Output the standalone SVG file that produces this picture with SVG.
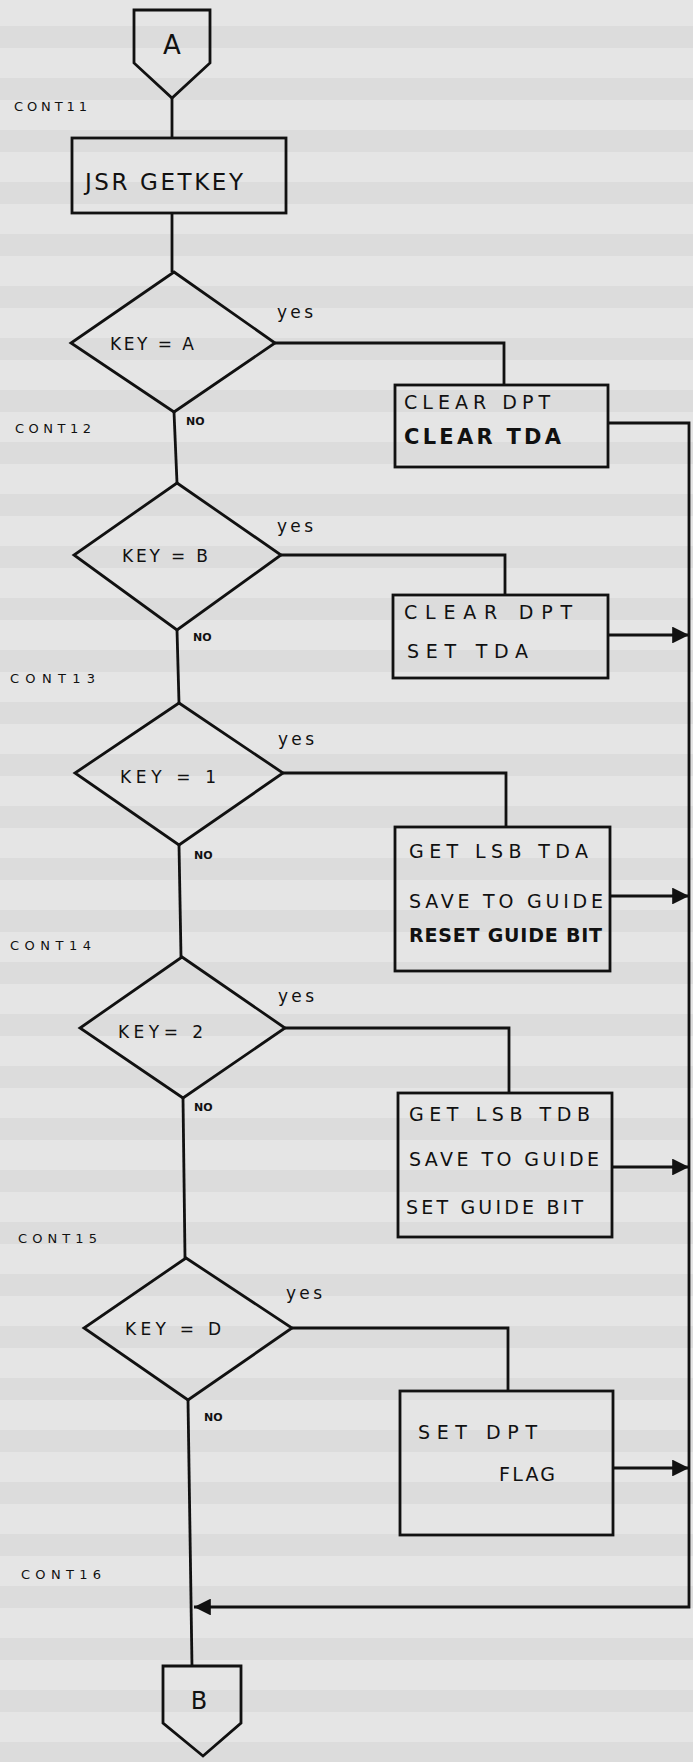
<svg xmlns="http://www.w3.org/2000/svg" width="693" height="1762" viewBox="0 0 693 1762">
<defs>
<pattern id="stripes" x="0" y="0" width="693" height="52" patternUnits="userSpaceOnUse">
<rect x="0" y="0" width="693" height="52" fill="#e5e5e5"/>
<rect x="0" y="26" width="693" height="22" fill="#dcdcdc"/>
</pattern>
<marker id="arr" viewBox="0 0 10 10" refX="10" refY="5" markerWidth="7" markerHeight="6" markerUnits="strokeWidth" orient="auto">
<path d="M0,0 L10,5 L0,10 Z" fill="#111"/>
</marker>
</defs>
<style>
.s{fill:none;stroke:#111;stroke-width:2.8;stroke-linejoin:miter}
.t{font-family:"DejaVu Sans","Liberation Sans",sans-serif;fill:#111}
.box{font-size:19px}
.bold{font-size:21px;font-weight:bold}
.lab{font-size:13px}
.yes{font-size:17px}
.no{font-size:11px;font-weight:bold}
.key{font-size:17px}
</style>
<rect x="0" y="0" width="693" height="1762" fill="url(#stripes)"/>

<g id="connectors">
<path class="s" d="M172,98 V138"/>
<path class="s" d="M172,213 V272"/>
<path class="s" d="M174,412 L177,483"/>
<path class="s" d="M177,630 L179,703"/>
<path class="s" d="M179,845 L181,957"/>
<path class="s" d="M183,1098 L185,1258"/>
<path class="s" d="M188,1400 L192,1666"/>
<path class="s" d="M275,343 H504 V385"/>
<path class="s" d="M281,555 H505 V595"/>
<path class="s" d="M283,773 H506 V827"/>
<path class="s" d="M285,1028 H509 V1093"/>
<path class="s" d="M292,1328 H508 V1391"/>
<path class="s" d="M608,423 H689 V1607 H194" marker-end="url(#arr)"/>
<path class="s" d="M608,635 H689" marker-end="url(#arr)"/>
<path class="s" d="M610,896 H689" marker-end="url(#arr)"/>
<path class="s" d="M612,1167 H689" marker-end="url(#arr)"/>
<path class="s" d="M613,1468 H689" marker-end="url(#arr)"/>
</g>

<g id="connA">
<path class="s" d="M134,10 H210 V63 L172,98 L134,63 Z"/>
<text class="t" x="172" y="54" font-size="26" text-anchor="middle">A</text>
</g>
<text class="t lab" x="14" y="111" textLength="73">CONT11</text>

<g id="getkey">
<rect class="s" x="72" y="138" width="214" height="75"/>
<text class="t" x="85" y="190" font-size="23" textLength="158">JSR GETKEY</text>
</g>

<g id="dA">
<path class="s" d="M174,272 L275,343 L174,412 L71,343 Z"/>
<text class="t key" x="110" y="350" textLength="84">KEY = A</text>
<text class="t yes" x="277" y="318" textLength="36">yes</text>
<text class="t no" x="186" y="425">NO</text>
</g>
<text class="t lab" x="15" y="433" textLength="76">CONT12</text>
<g id="bA">
<rect class="s" x="395" y="385" width="213" height="82"/>
<text class="t box" x="404" y="409" textLength="146">CLEAR DPT</text>
<text class="t bold" x="404" y="444" textLength="157">CLEAR TDA</text>
</g>

<g id="dB">
<path class="s" d="M177,483 L281,555 L177,630 L74,555 Z"/>
<text class="t key" x="122" y="562" textLength="86">KEY = B</text>
<text class="t yes" x="277" y="532" textLength="36">yes</text>
<text class="t no" x="193" y="641">NO</text>
</g>
<text class="t lab" x="10" y="683" textLength="85">CONT13</text>
<g id="bB">
<rect class="s" x="393" y="595" width="215" height="83"/>
<text class="t box" x="404" y="619" textLength="168">CLEAR DPT</text>
<text class="t box" x="407" y="658" textLength="121">SET TDA</text>
</g>

<g id="d1">
<path class="s" d="M179,703 L283,773 L179,845 L75,773 Z"/>
<text class="t key" x="120" y="783" textLength="96">KEY = 1</text>
<text class="t yes" x="278" y="745" textLength="36">yes</text>
<text class="t no" x="194" y="859">NO</text>
</g>
<text class="t lab" x="10" y="950" textLength="81">CONT14</text>
<g id="b1">
<rect class="s" x="395" y="827" width="215" height="144"/>
<text class="t box" x="409" y="858" textLength="179">GET LSB TDA</text>
<text class="t box" x="409" y="908" textLength="194">SAVE TO GUIDE</text>
<text class="t box" x="409" y="942" font-weight="bold" textLength="193">RESET GUIDE BIT</text>
</g>

<g id="d2">
<path class="s" d="M182,957 L285,1028 L183,1098 L80,1028 Z"/>
<text class="t key" x="118" y="1038" textLength="85">KEY= 2</text>
<text class="t yes" x="278" y="1002" textLength="36">yes</text>
<text class="t no" x="194" y="1111">NO</text>
</g>
<text class="t lab" x="18" y="1243" textLength="79">CONT15</text>
<g id="b2">
<rect class="s" x="398" y="1093" width="214" height="144"/>
<text class="t box" x="409" y="1121" textLength="181">GET LSB TDB</text>
<text class="t box" x="409" y="1166" textLength="190">SAVE TO GUIDE</text>
<text class="t box" x="406" y="1214" textLength="177">SET GUIDE BIT</text>
</g>

<g id="dD">
<path class="s" d="M186,1258 L292,1328 L188,1400 L84,1328 Z"/>
<text class="t key" x="125" y="1335" textLength="96">KEY = D</text>
<text class="t yes" x="286" y="1299" textLength="36">yes</text>
<text class="t no" x="204" y="1421">NO</text>
</g>
<g id="bD">
<rect class="s" x="400" y="1391" width="213" height="144"/>
<text class="t box" x="418" y="1439" textLength="119">SET DPT</text>
<text class="t box" x="499" y="1481" textLength="56">FLAG</text>
</g>
<text class="t lab" x="21" y="1579" textLength="80">CONT16</text>

<g id="connB">
<path class="s" d="M163,1666 H241 V1723 L203,1756 L163,1723 Z"/>
<text class="t" x="199" y="1709" font-size="24" text-anchor="middle">B</text>
</g>
</svg>
